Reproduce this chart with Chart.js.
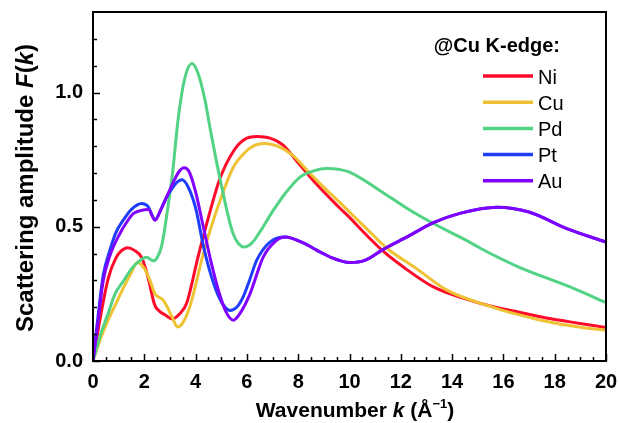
<!DOCTYPE html>
<html>
<head>
<meta charset="utf-8">
<script src="https://cdn.jsdelivr.net/npm/chart.js@4.4.1/dist/chart.umd.min.js"></script>
<style>
html,body{margin:0;padding:0;background:#fff;}
#c{display:block;}
</style>
</head>
<body>
<canvas id="c" width="619" height="423" style="width:619px;height:423px"></canvas>
<script>
// ---- Data ----
const seriesNames = ["Ni", "Cu", "Pd", "Pt", "Au"];
const seriesColors = ["#ff0a2a", "#eec232", "#52d283", "#1f3dff", "#8200ff"];

const kNi = [0, 0.3, 0.6, 0.9, 1.1, 1.35, 1.6, 1.9, 2.15, 2.4, 2.6, 2.8, 3.1, 3.4, 3.65, 4.1, 4.5, 4.95, 5.5, 5.9, 6.4, 6.9, 7.4, 7.9, 8.7, 9.6, 10.0, 10.6, 11.3, 12.1, 13.25, 14.4, 15.6, 16.7, 17.8, 19.0, 20];
const fNi = [0, 0.17, 0.31, 0.385, 0.41, 0.422, 0.413, 0.385, 0.31, 0.21, 0.185, 0.172, 0.157, 0.178, 0.215, 0.39, 0.535, 0.68, 0.785, 0.825, 0.836, 0.83, 0.805, 0.75, 0.66, 0.572, 0.535, 0.475, 0.41, 0.35, 0.277, 0.235, 0.202, 0.18, 0.158, 0.14, 0.125];

const kCu = [0, 0.3, 0.6, 0.9, 1.2, 1.5, 1.72, 2.0, 2.2, 2.42, 2.58, 2.72, 2.9, 3.1, 3.3, 3.55, 3.8, 4.3, 4.56, 5.0, 5.46, 5.9, 6.3, 6.7, 7.2, 7.8, 8.4, 9.0, 9.63, 10.0, 10.7, 11.46, 12.6, 13.8, 15.6, 16.7, 17.8, 19.0, 20];
const fCu = [0, 0.085, 0.155, 0.215, 0.275, 0.33, 0.367, 0.345, 0.305, 0.25, 0.237, 0.228, 0.2, 0.16, 0.127, 0.15, 0.21, 0.4, 0.485, 0.61, 0.72, 0.775, 0.803, 0.81, 0.8, 0.765, 0.705, 0.647, 0.59, 0.555, 0.49, 0.42, 0.345, 0.264, 0.2, 0.17, 0.145, 0.126, 0.114];

const kPd = [0, 0.3, 0.6, 0.86, 1.2, 1.5, 1.8, 2.09, 2.35, 2.5, 2.68, 2.94, 3.1, 3.33, 3.59, 3.86, 4.1, 4.37, 4.56, 4.95, 5.46, 5.9, 6.2, 6.5, 7.02, 7.5, 8.07, 8.6, 9.1, 9.63, 10.0, 11.3, 12.3, 13.27, 14.7, 15.1, 16.6, 18.6, 20];
const fPd = [0, 0.1, 0.18, 0.25, 0.3, 0.343, 0.372, 0.386, 0.373, 0.385, 0.43, 0.586, 0.7, 0.91, 1.057, 1.108, 1.07, 0.97, 0.87, 0.68, 0.475, 0.425, 0.44, 0.48, 0.56, 0.625, 0.685, 0.708, 0.717, 0.713, 0.704, 0.628, 0.565, 0.512, 0.442, 0.42, 0.35, 0.276, 0.217];

const kPt = [0, 0.2, 0.4, 0.65, 0.9, 1.18, 1.5, 1.9, 2.15, 2.42, 2.65, 2.87, 3.1, 3.3, 3.47, 3.7, 4.0, 4.3, 4.6, 4.9, 5.15, 5.34, 5.6, 5.86, 6.1, 6.38, 6.9, 7.49, 8.2, 8.72, 9.3, 10.0, 10.6, 11.3, 12.3, 13.27, 14.3, 15.74, 17.0, 18.47, 20];
const fPt = [0, 0.17, 0.32, 0.41, 0.48, 0.525, 0.565, 0.587, 0.575, 0.527, 0.565, 0.611, 0.645, 0.668, 0.675, 0.65, 0.57, 0.43, 0.32, 0.24, 0.2, 0.188, 0.2, 0.24, 0.3, 0.375, 0.443, 0.462, 0.44, 0.413, 0.385, 0.367, 0.375, 0.415, 0.465, 0.515, 0.55, 0.573, 0.555, 0.493, 0.443];

const kAu = [0, 0.2, 0.4, 0.65, 1.05, 1.3, 1.57, 1.85, 2.16, 2.42, 2.65, 2.87, 3.1, 3.35, 3.55, 3.75, 4.0, 4.3, 4.6, 4.9, 5.2, 5.47, 5.75, 6.12, 6.64, 7.1, 7.49, 8.2, 8.72, 9.3, 10.0, 10.6, 11.3, 12.3, 13.27, 14.3, 15.74, 17.0, 18.47, 20];
const fAu = [0, 0.15, 0.3, 0.39, 0.475, 0.515, 0.549, 0.56, 0.564, 0.524, 0.565, 0.611, 0.66, 0.705, 0.72, 0.705, 0.63, 0.5, 0.37, 0.26, 0.18, 0.152, 0.18, 0.25, 0.388, 0.445, 0.462, 0.44, 0.413, 0.385, 0.367, 0.375, 0.415, 0.465, 0.515, 0.55, 0.573, 0.555, 0.493, 0.443];

const xTickLabels = ["0", "2", "4", "6", "8", "10", "12", "14", "16", "18", "20"];
const yTickLabels = ["0.0", "0.5", "1.0"];
const legendTitle = "@Cu K-edge:";

// ---- Build datasets ----
const FONT = "'Liberation Sans', Arial, Helvetica, sans-serif";
const kArr = [kNi, kCu, kPd, kPt, kAu];
const fArr = [fNi, fCu, fPd, fPt, fAu];
const datasets = seriesNames.map((name, i) => ({
  label: name,
  data: kArr[i].map((k, j) => ({x: k, y: fArr[i][j]})),
  borderColor: seriesColors[i],
  backgroundColor: seriesColors[i],
  borderWidth: 3,
  pointRadius: 0,
  fill: false,
  cubicInterpolationMode: 'monotone',
  order: seriesNames.length - i
}));

const near = (a, b) => Math.abs(a - b) < 1e-6;

const framePlugin = {
  id: 'frame',
  afterDraw(chart) {
    const ctx = chart.ctx;
    const a = chart.chartArea;
    const xs = chart.scales.x, ys = chart.scales.y;
    ctx.save();
    ctx.strokeStyle = '#000';
    ctx.lineWidth = 2;
    ctx.strokeRect(a.left, a.top, a.right - a.left, a.bottom - a.top);
    // inward ticks
    ctx.lineWidth = 1.5;
    ctx.beginPath();
    for (let i = 0; i <= 40; i++) {
      const v = i * 0.5;
      const px = Math.round(xs.getPixelForValue(v)) + 0.5;
      const len = (i % 4 === 0) ? 7 : 4;
      ctx.moveTo(px, a.bottom);
      ctx.lineTo(px, a.bottom - len);
    }
    for (let i = 0; i <= 12; i++) {
      const v = i * 0.1;
      const py = Math.round(ys.getPixelForValue(v)) + 0.5;
      const len = (i % 5 === 0) ? 7 : 4;
      ctx.moveTo(a.left, py);
      ctx.lineTo(a.left + len, py);
    }
    ctx.stroke();

    // Legend
    ctx.fillStyle = '#000';
    ctx.textBaseline = 'alphabetic';
    ctx.font = "bold 20px " + FONT;
    ctx.textAlign = 'right';
    ctx.fillText(legendTitle, 560, 52);
    ctx.textAlign = 'left';
    ctx.font = "20px " + FONT;
    chart.data.datasets.forEach((ds, i) => {
      const y = 76 + i * 26.2;
      ctx.strokeStyle = ds.borderColor;
      ctx.lineWidth = 3.5;
      ctx.beginPath();
      ctx.moveTo(483, y);
      ctx.lineTo(533, y);
      ctx.stroke();
      ctx.fillStyle = '#000';
      ctx.fillText(ds.label, 538, y + 7.5);
    });

    // X axis title with italic k and superscript
    const drawRuns = (runs, cx, cy) => {
      let total = 0;
      runs.forEach(r => { ctx.font = r.f; r.w = ctx.measureText(r.t).width; total += r.w; });
      let x = cx - total / 2;
      runs.forEach(r => { ctx.font = r.f; ctx.fillText(r.t, x, cy + (r.dy || 0)); x += r.w; });
    };
    ctx.fillStyle = '#000';
    ctx.textAlign = 'left';
    const B = "bold 21px " + FONT, BI = "italic bold 21px " + FONT, SUP = "bold 13px " + FONT;
    drawRuns([
      {t: "Wavenumber ", f: B},
      {t: "k", f: BI},
      {t: " (Å", f: B},
      {t: "\u22121", f: SUP, dy: -9},
      {t: ")", f: B}
    ], 355, 417);

    // Y axis title rotated
    ctx.save();
    ctx.translate(33, 188);
    ctx.rotate(-Math.PI / 2);
    const B2 = "bold 24px " + FONT, BI2 = "italic bold 24px " + FONT;
    drawRuns([
      {t: "Scattering amplitude ", f: B2},
      {t: "F", f: BI2},
      {t: "(", f: B2},
      {t: "k", f: BI2},
      {t: ")", f: B2}
    ], 0, 0);
    ctx.restore();
    ctx.restore();
  }
};

new Chart(document.getElementById('c'), {
  type: 'line',
  data: {datasets},
  options: {
    responsive: false,
    animation: false,
    maintainAspectRatio: false,
    layout: {padding: {top: 12, right: 13, left: 0, bottom: 0}},
    plugins: {legend: {display: false}, tooltip: {enabled: false}},
    scales: {
      x: {
        type: 'linear', min: 0, max: 20,
        grid: {display: false, drawTicks: false},
        border: {display: false},
        ticks: {
          stepSize: 0.5, autoSkip: false, maxRotation: 0, padding: 9,
          color: '#000', font: {family: FONT, size: 20, weight: 'bold'},
          callback: (v) => {
            const idx = xTickLabels.indexOf(String(v));
            return idx >= 0 && near(v % 2, 0) ? xTickLabels[idx] : '';
          }
        },
        afterFit: (s) => { s.height = 62; s.paddingLeft = 0; s.paddingRight = 0; }
      },
      y: {
        type: 'linear', min: 0, max: 1.3,
        grid: {display: false, drawTicks: false},
        border: {display: false},
        ticks: {
          stepSize: 0.1, autoSkip: false, padding: 10,
          color: '#000', font: {family: FONT, size: 20, weight: 'bold'},
          callback: (v) => {
            const idx = Math.round(v * 2);
            return near(v * 2, idx) && idx < yTickLabels.length ? yTickLabels[idx] : '';
          }
        },
        afterFit: (s) => { s.width = 93; s.paddingTop = 0; s.paddingBottom = 0; }
      }
    }
  },
  plugins: [framePlugin]
});
</script>
</body>
</html>
